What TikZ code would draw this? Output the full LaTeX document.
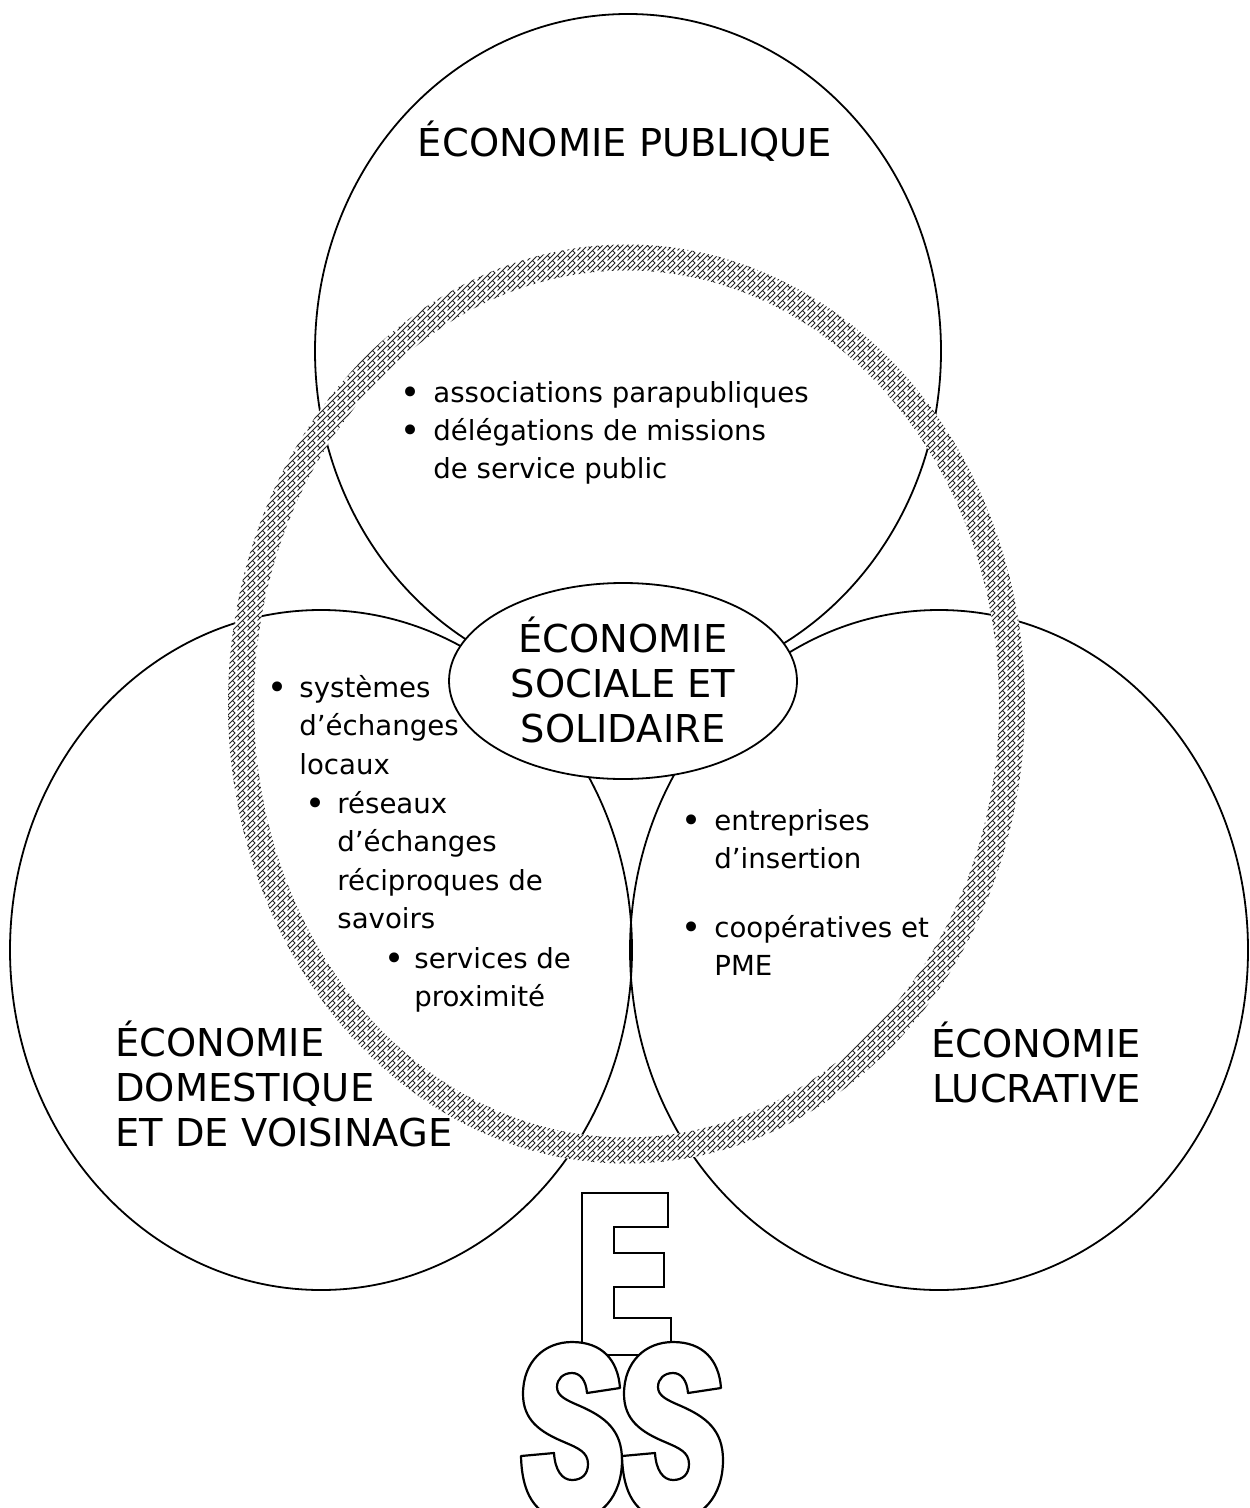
\documentclass[tikz,border=0pt]{standalone}
\usepackage{fontspec}
\setmainfont{DejaVu Sans}
\usetikzlibrary{patterns}
\pgfdeclarepatternformonly{weave}{\pgfqpoint{-0.5pt}{-0.5pt}}{\pgfqpoint{5.5pt}{5.5pt}}{\pgfqpoint{5pt}{5pt}}{%
  \pgfsetlinewidth{0.5pt}%
  \pgfpathmoveto{\pgfqpoint{0pt}{0pt}}\pgfpathlineto{\pgfqpoint{2.5pt}{2.5pt}}\pgfpathlineto{\pgfqpoint{1.25pt}{3.75pt}}%
  \pgfpathmoveto{\pgfqpoint{2.5pt}{0pt}}\pgfpathlineto{\pgfqpoint{5pt}{2.5pt}}%
  \pgfpathmoveto{\pgfqpoint{3.75pt}{1.25pt}}\pgfpathlineto{\pgfqpoint{5pt}{0pt}}%
  \pgfpathmoveto{\pgfqpoint{0pt}{2.5pt}}\pgfpathlineto{\pgfqpoint{2.5pt}{5pt}}%
  \pgfpathmoveto{\pgfqpoint{3.75pt}{3.75pt}}\pgfpathlineto{\pgfqpoint{5pt}{5pt}}%
  \pgfusepath{stroke}}
\newcommand\lns[2][l]{\begin{tabular}[t]{@{}#1@{}}#2\end{tabular}}
\tikzset{
  zone/.style={draw=black, line width=0.9pt},
  bigtxt/.style={inner sep=0pt, font=\fontsize{19.2pt}{22.5pt}\selectfont},
  smalltxt/.style={inner sep=0pt, anchor=base west, font=\fontsize{13.8pt}{19.3pt}\selectfont},
  bul/.style={inner sep=0pt, anchor=base, font=\fontsize{17pt}{17pt}\selectfont},
  logoline/.style={draw=black, fill=white, line width=1.1pt, line join=round},
  ringfill/.style={even odd rule},
  pics/sletter/.style={code={
    \path[logoline] (52,0)
      .. controls (82,0) and (98,18) .. (100,46)
      -- (67,51)
      .. controls (66,38) and (60,31) .. (52,31)
      .. controls (43,31) and (37,37) .. (37,45)
      .. controls (37,54) and (46,58) .. (60,64)
      .. controls (85,75) and (102,88) .. (102,118)
      .. controls (102,155) and (80,178) .. (52,178)
      .. controls (20,178) and (2,158) .. (1,114)
      -- (34,111)
      .. controls (35,128) and (42,138) .. (52,138)
      .. controls (62,138) and (68,132) .. (68,122)
      .. controls (68,110) and (58,106) .. (44,100)
      .. controls (20,90) and (3,78) .. (3,52)
      .. controls (3,20) and (24,0) .. (52,0)
      -- cycle;
  }},
}
\begin{document}
\begin{tikzpicture}[x=0.5pt,y=-0.5pt]
\useasboundingbox (0,0) rectangle (1249,1508);
\clip (0,0) rectangle (1249,1508);
\fill[white] (0,0) rectangle (1249,1508);
% three spheres
\draw[zone] (628,351) ellipse [x radius=313, y radius=337];
\draw[zone] (321,950) ellipse [x radius=311, y radius=340];
\draw[zone] (939,950) ellipse [x radius=309, y radius=340];
% patterned ring
\fill[white, ringfill] (626.5,704) ellipse [x radius=398.5, y radius=459.5] (626.5,704) ellipse [x radius=372.5, y radius=433.5];
\fill[pattern=weave, pattern color=black!85, ringfill] (626.5,704) ellipse [x radius=398.5, y radius=459.5] (626.5,704) ellipse [x radius=372.5, y radius=433.5];
% central ellipse
\filldraw[zone, fill=white] (623,681) ellipse [x radius=174, y radius=98];
\node[bigtxt, anchor=base] (ess) at (623,652) {\lns[c]{ÉCONOMIE\\SOCIALE ET\\SOLIDAIRE}};
% big labels
\node[bigtxt, anchor=base] (pub) at (625,157) {ÉCONOMIE PUBLIQUE};
\node[bigtxt, anchor=base west] (dom) at (115,1056) {\lns{ÉCONOMIE\\DOMESTIQUE\\ET DE VOISINAGE}};
\node[bigtxt, anchor=base east] (luc) at (1141,1057) {\lns[r]{ÉCONOMIE\\LUCRATIVE}};
% top bullets
\node[bul] (bt1) at (410.5,404) {•};
\node[smalltxt] (t1) at (433,402) {associations parapubliques};
\node[bul] (bt2) at (410.5,442) {•};
\node[smalltxt] (t2) at (433,440) {\lns{délégations de missions\\de service public}};
% left bullets
\node[bul] (bl1) at (277.5,699) {•};
\node[smalltxt] (l1) at (299,697) {\lns{systèmes\\d’échanges\\locaux}};
\node[bul] (bl2) at (316,815) {•};
\node[smalltxt] (l2) at (337,813) {\lns{réseaux\\d’échanges\\réciproques de\\savoirs}};
\node[bul] (bl3) at (394.5,970) {•};
\node[smalltxt] (l3) at (414,968) {\lns{services de\\proximité}};
% right bullets
\node[bul] (br1) at (692,832) {•};
\node[smalltxt] (r1) at (714,830) {\lns{entreprises\\d’insertion}};
\node[bul] (br2) at (692,939) {•};
\node[smalltxt] (r2) at (714,937) {\lns{coopératives et\\PME}};
% ESS logo
\filldraw[logoline, line join=miter] (582,1193) -- (668,1193) -- (668,1227) -- (614,1227) -- (614,1253) -- (664,1253) -- (664,1287) -- (614,1287) -- (614,1318) -- (671,1318) -- (671,1355) -- (582,1355) -- cycle;
\pic at (520,1342) {sletter};
\pic at (621,1342) {sletter};
\end{tikzpicture}
\end{document}
